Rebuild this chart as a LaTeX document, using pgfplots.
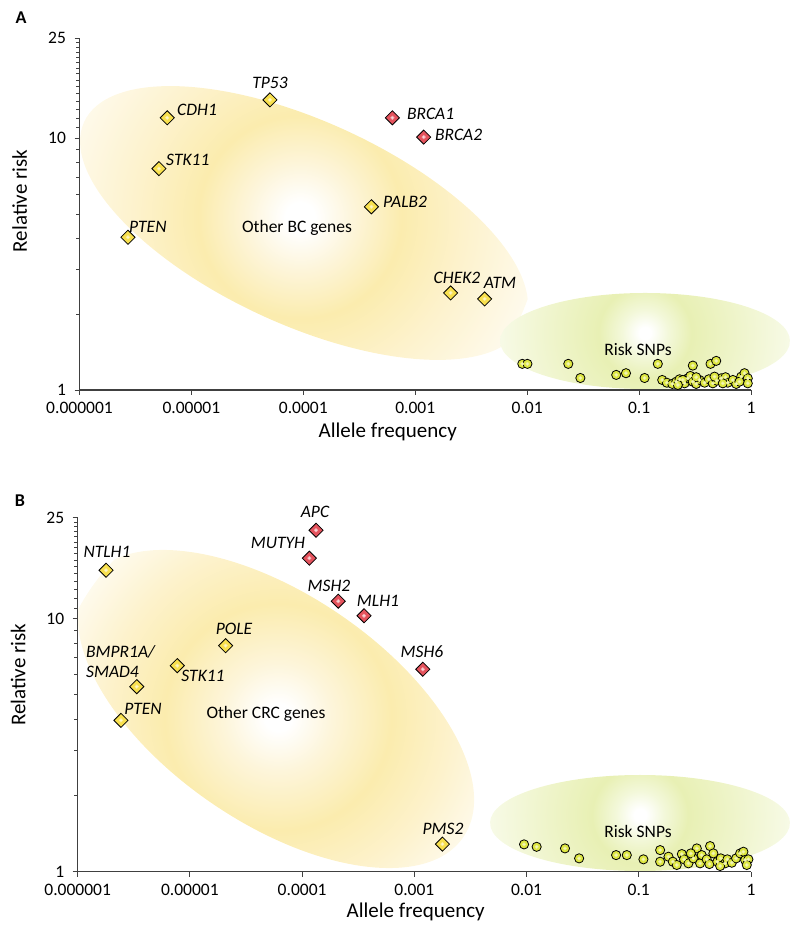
\documentclass[border=0pt]{standalone}
\usepackage{pgfplots}
\usepackage{pgfplotstable}
\pgfplotsset{compat=1.18}
\usepackage{fontspec}
\setmainfont{Carlito}

\definecolor{axgray}{HTML}{404040}
\definecolor{ydia}{HTML}{F8E04E}
\definecolor{rdia}{HTML}{E4535D}
\definecolor{snp}{HTML}{DDE640}
\definecolor{yb1}{HTML}{FDF5DA}
\definecolor{yb2}{HTML}{FBECAE}
\definecolor{yb3}{HTML}{FDF2CC}
\definecolor{yb4}{HTML}{FEFAEC}
\definecolor{gb1}{HTML}{F3F8DA}
\definecolor{gb2}{HTML}{E8F0B4}
\definecolor{gb3}{HTML}{EEF4C8}
\definecolor{gb4}{HTML}{F7FAE6}

\pgfdeclareradialshading{yblobA}{\pgfpoint{0bp}{0bp}}{color(0bp)=(white); color(1.5bp)=(white); color(5.5bp)=(yb1); color(10.5bp)=(yb2); color(17bp)=(yb3); color(25bp)=(yb4); color(50bp)=(yb4)}
\pgfdeclareradialshading{yblobB}{\pgfpoint{0bp}{0bp}}{color(0bp)=(white); color(1.5bp)=(white); color(6bp)=(yb1); color(12.5bp)=(yb2); color(19bp)=(yb3); color(25bp)=(yb4); color(50bp)=(yb4)}
\pgfdeclareradialshading{gblob}{\pgfpoint{0bp}{0bp}}{color(0bp)=(white); color(1bp)=(white); color(4bp)=(gb1); color(8bp)=(gb2); color(15bp)=(gb3); color(25bp)=(gb4); color(50bp)=(gb4)}

% Panel A data
\pgfplotstableread{
x y
6.08e-6 12.05
5.03e-5 14.2
5.13e-6 7.57
2.71e-6 4.04
4.06e-4 5.34
2.07e-3 2.43
4.17e-3 2.30
}\genesAy
\pgfplotstableread{
x y
6.25e-4 12.05
1.19e-3 10.1
}\genesAr
\pgfplotstableread{
x y
0.00905 1.27
0.01005 1.27
0.0233 1.27
0.0299 1.116
0.0625 1.148
0.0764 1.166
0.112 1.116
0.147 1.27
0.302 1.25
0.435 1.27
0.489 1.305
0.161 1.096
0.177 1.069
0.198 1.057
0.215 1.079
0.230 1.103
0.255 1.063
0.273 1.113
0.287 1.137
0.302 1.079
0.324 1.057
0.347 1.096
0.385 1.069
0.420 1.103
0.456 1.063
0.495 1.089
0.542 1.113
0.592 1.124
0.621 1.069
0.689 1.096
0.738 1.057
0.818 1.130
0.875 1.166
0.936 1.113
0.936 1.063
0.789 1.079
0.560 1.063
0.324 1.124
0.246 1.096
0.222 1.047
0.472 1.130
}\snpA

% Panel B data
\pgfplotstableread{
x y
1.79e-6 15.5
2.08e-5 7.81
7.72e-6 6.51
3.36e-6 5.38
2.43e-6 3.96
1.78e-3 1.285
}\genesBy
\pgfplotstableread{
x y
1.33e-4 22.3
1.16e-4 17.3
2.10e-4 11.7
3.56e-4 10.25
1.19e-3 6.30
}\genesBr
\pgfplotstableread{
x y
0.0095 1.282
0.0123 1.254
0.0220 1.236
0.0294 1.129
0.0628 1.163
0.0782 1.163
0.110 1.119
0.155 1.217
0.155 1.095
0.432 1.262
0.184 1.146
0.201 1.095
0.218 1.063
0.242 1.174
0.253 1.119
0.277 1.079
0.307 1.129
0.329 1.236
0.352 1.079
0.364 1.163
0.403 1.119
0.426 1.072
0.462 1.181
0.501 1.095
0.538 1.129
0.588 1.079
0.616 1.119
0.675 1.085
0.737 1.129
0.800 1.181
0.856 1.199
0.886 1.112
0.948 1.119
0.917 1.063
0.291 1.181
0.531 1.053
}\snpB

\tikzset{
  gene/.style={font=\fontsize{17.5}{20}\selectfont\itshape, anchor=base, inner sep=0pt},
  plainlab/.style={font=\fontsize{17.5}{20}\selectfont, anchor=base, inner sep=0pt},
}

\begin{document}
\begin{tikzpicture}[x=1pt,y=1pt]
\path[use as bounding box] (0,0) rectangle (800,931);

% background ellipses panel A
\begin{scope}
  \clip[rotate around={-24.7:(304,708)}] (304,708) ellipse [x radius=242, y radius=101.6];
  \shade[shading=yblobA] (300,714) circle (242);
\end{scope}
\begin{scope}
  \clip (645,590) ellipse [x radius=145, y radius=48];
  \shade[shading=gblob] (645,598) circle (145);
\end{scope}
% background ellipses panel B
\begin{scope}
  \clip[rotate around={-34.4:(276,222)}] (276,222) ellipse [x radius=227, y radius=114];
  \shade[shading=yblobB] (278,214) circle (227);
\end{scope}
\begin{scope}
  \clip (640,108) ellipse [x radius=150, y radius=48];
  \shade[shading=gblob] (640,116) circle (150);
\end{scope}

% Panel A
\begin{axis}[
  xmode=log, ymode=log,
  scale only axis, anchor=south west,
  at={(79.5pt,541pt)}, width=671.5pt, height=352pt,
  xmin=1e-6, xmax=1, ymin=1, ymax=25,
  axis lines*=left,
  axis line style={axgray, line width=1.1pt},
  xtick={1e-6,1e-5,1e-4,1e-3,1e-2,1e-1,1},
  xticklabels={0.000001,0.00001,0.0001,0.001,0.01,0.1,1},
  ytick={1,10,25}, yticklabels={1,10,25},
  minor ytick={2,3,4,5,6,7,8,9,11,12,13,14,15,16,17,18,19,20,21,22,23,24},
  xminorticks=false,
  tick align=outside, major tick length=5pt, minor tick length=3.5pt,
  tick style={axgray, line width=0.9pt},
  tick label style={font=\fontsize{17.5}{20}\selectfont, text=black},
  xticklabel style={yshift=-4pt},
  yticklabel style={xshift=-5pt},
  clip=false,
  xlabel={Allele frequency}, ylabel={Relative risk},
  label style={font=\fontsize{21}{24}\selectfont},
  xlabel style={at={(axis description cs:0.459,0)}, anchor=base, yshift=-48pt},
  ylabel style={at={(axis description cs:-0.0785,0.537)}, anchor=base},
]
\addplot[only marks, mark=*, mark size=4.6pt, mark options={fill=snp, draw=black, line width=0.8pt}] table {\snpA};
\addplot[only marks, mark=*, mark size=1.7pt, mark options={fill=snp!35!white, draw=snp!55!white, line width=0.5pt}] table {\snpA};
\addplot[only marks, mark=square*, mark size=5pt, mark options={rotate=45, fill=ydia, draw=black, line width=0.8pt}] table {\genesAy};
\addplot[only marks, mark=*, mark size=1.8pt, mark options={fill=ydia!30!white, draw=ydia!55!white, line width=0.5pt}] table {\genesAy};
\addplot[only marks, mark=square*, mark size=5pt, mark options={rotate=45, fill=rdia, draw=black, line width=0.8pt}] table {\genesAr};
\addplot[only marks, mark=*, mark size=1.8pt, mark options={fill=rdia!25!white, draw=rdia!50!white, line width=0.5pt}] table {\genesAr};
\end{axis}

% Panel B
\begin{axis}[
  xmode=log, ymode=log,
  scale only axis, anchor=south west,
  at={(77.7pt,59.3pt)}, width=673.3pt, height=354pt,
  xmin=1e-6, xmax=1, ymin=1, ymax=25,
  axis lines*=left,
  axis line style={axgray, line width=1.1pt},
  xtick={1e-6,1e-5,1e-4,1e-3,1e-2,1e-1,1},
  xticklabels={0.000001,0.00001,0.0001,0.001,0.01,0.1,1},
  ytick={1,10,25}, yticklabels={1,10,25},
  minor ytick={2,3,4,5,6,7,8,9,11,12,13,14,15,16,17,18,19,20,21,22,23,24},
  xminorticks=false,
  tick align=outside, major tick length=5pt, minor tick length=3.5pt,
  tick style={axgray, line width=0.9pt},
  tick label style={font=\fontsize{17.5}{20}\selectfont, text=black},
  xticklabel style={yshift=-4pt},
  yticklabel style={xshift=-5pt},
  clip=false,
  xlabel={Allele frequency}, ylabel={Relative risk},
  label style={font=\fontsize{21}{24}\selectfont},
  xlabel style={at={(axis description cs:0.502,0)}, anchor=base, yshift=-45.5pt},
  ylabel style={at={(axis description cs:-0.0778,0.556)}, anchor=base},
]
\addplot[only marks, mark=*, mark size=4.6pt, mark options={fill=snp, draw=black, line width=0.8pt}] table {\snpB};
\addplot[only marks, mark=*, mark size=1.7pt, mark options={fill=snp!35!white, draw=snp!55!white, line width=0.5pt}] table {\snpB};
\addplot[only marks, mark=square*, mark size=5pt, mark options={rotate=45, fill=ydia, draw=black, line width=0.8pt}] table {\genesBy};
\addplot[only marks, mark=*, mark size=1.8pt, mark options={fill=ydia!30!white, draw=ydia!55!white, line width=0.5pt}] table {\genesBy};
\addplot[only marks, mark=square*, mark size=5pt, mark options={rotate=45, fill=rdia, draw=black, line width=0.8pt}] table {\genesBr};
\addplot[only marks, mark=*, mark size=1.8pt, mark options={fill=rdia!25!white, draw=rdia!50!white, line width=0.5pt}] table {\genesBr};
\end{axis}

% Panel A labels
\node[font=\fontsize{18}{20}\selectfont\bfseries, anchor=base, inner sep=0pt] at (21,907) {A};
\node[gene] at (270,842.4) {TP53};
\node[gene, anchor=base west] at (177,815.4) {CDH1};
\node[gene, anchor=base west] at (166,765.4) {STK11};
\node[gene, anchor=base west] at (129,698.4) {PTEN};
\node[gene, anchor=base west] at (383,723.4) {PALB2};
\node[gene, anchor=base west] at (407,811.4) {BRCA1};
\node[gene, anchor=base west] at (435,790.4) {BRCA2};
\node[gene] at (457,647.4) {CHEK2};
\node[gene] at (500,642.4) {ATM};
\node[plainlab] at (297,698.4) {Other BC genes};
\node[plainlab] at (638,575.4) {Risk SNPs};

% Panel B labels
\node[font=\fontsize{18}{20}\selectfont\bfseries, anchor=base, inner sep=0pt] at (20,424.4) {B};
\node[gene] at (315,413.4) {APC};
\node[gene] at (278,382.4) {MUTYH};
\node[gene] at (107,373.4) {NTLH1};
\node[gene] at (329,339.4) {MSH2};
\node[gene] at (378,324.4) {MLH1};
\node[gene] at (234,296.4) {POLE};
\node[gene, anchor=base west] at (86,273.4) {BMPR1A/};
\node[gene, anchor=base west] at (86,253.4) {SMAD4};
\node[gene] at (203,249.4) {STK11};
\node[gene] at (143,216.4) {PTEN};
\node[plainlab] at (266,212.4) {Other CRC genes};
\node[gene] at (422,273.4) {MSH6};
\node[gene] at (443,96.4) {PMS2};
\node[plainlab] at (638,93.4) {Risk SNPs};
\end{tikzpicture}
\end{document}
